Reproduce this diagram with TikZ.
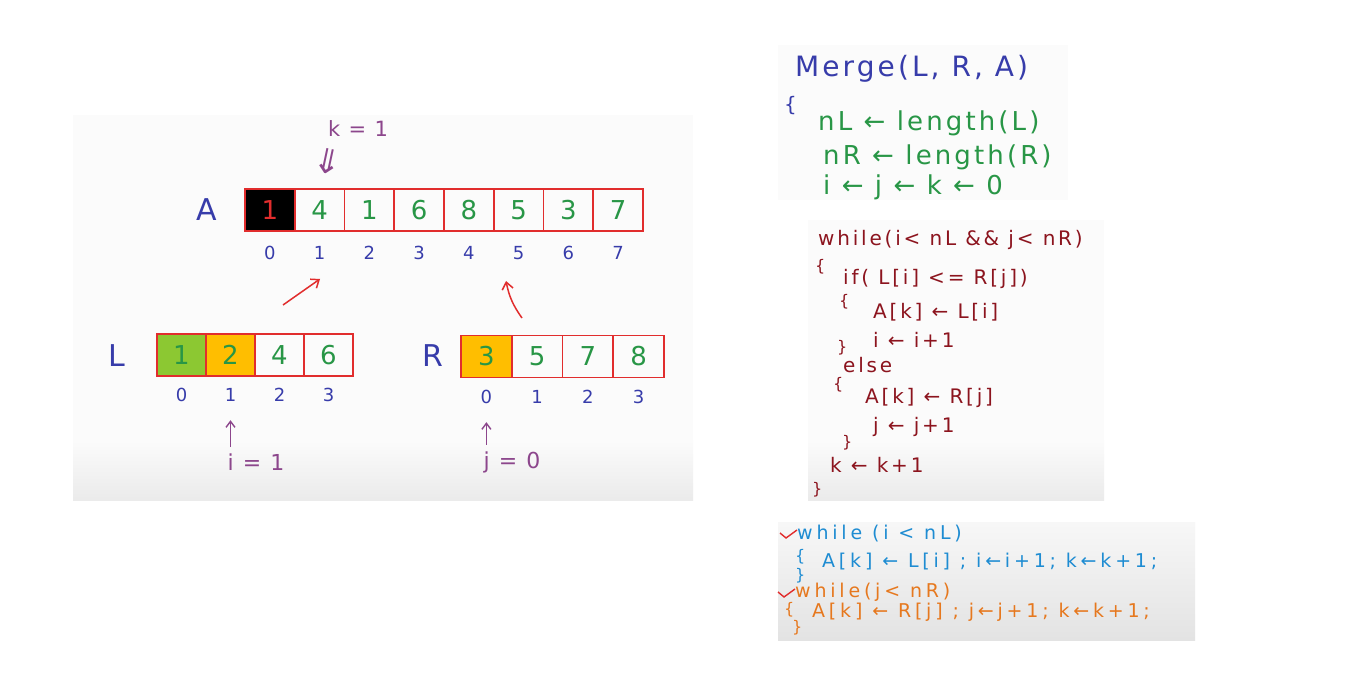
\documentclass[tikz,border=0pt]{standalone}
\usepackage{fontspec}
\setmainfont{DejaVu Sans}
\usepackage{xcolor}
\usepackage{tikz}
\usetikzlibrary{calc, positioning, arrows.meta}

\definecolor{idxblue}{RGB}{55,60,170}
\definecolor{numgreen}{RGB}{40,150,70}
\definecolor{cellred}{RGB}{225,45,45}
\definecolor{ptrpurple}{RGB}{140,70,140}
\definecolor{codered}{RGB}{140,20,30}
\definecolor{codecyan}{RGB}{30,140,210}
\definecolor{codeorange}{RGB}{230,120,30}
\definecolor{limefill}{RGB}{140,200,50}
\definecolor{goldfill}{RGB}{255,190,0}

\newcommand{\fs}[1]{\fontsize{#1}{#1}\selectfont}
\newcommand{\wide}[1]{\addfontfeature{LetterSpace=#1}}

\tikzset{
  cellbox/.style={draw=cellred, line width=1.6pt, outer sep=0pt, inner sep=0pt,
    minimum width=49.75pt, minimum height=42pt, text=numgreen, font=\fs{26}},
  idx/.style={text=idxblue, font=\fs{18}},
  arrname/.style={text=idxblue, font=\fs{30}},
  ptr/.style={ptrpurple, line width=1.4pt, -{Straight Barb[length=6pt,width=9pt]}},
  redptr/.style={cellred, line width=1.5pt, -{Straight Barb[length=7pt,width=11pt]}},
  code/.style={anchor=base west, inner sep=0pt},
  brace/.style={code, font=\fs{16}},
}

\begin{document}
\begin{tikzpicture}[x=1pt, y=-1pt]
    \useasboundingbox (0,0) rectangle (1364,684);
    \fill[white] (0,0) rectangle (1364,684);

    % Hintergrund der Felder
    \fill[gray!3] (73,115) rectangle (693,440);
    \shade[top color=gray!3, bottom color=gray!16] (73,440) rectangle (693,500);
    \fill[gray!3] (778,45) rectangle (1068,200);
    \fill[gray!3] (808,220) rectangle (1104,440);
    \shade[top color=gray!3, bottom color=gray!16] (808,440) rectangle (1104,500);
    \shade[top color=gray!6, bottom color=gray!22] (778,522) rectangle (1195,640);

    % Feld A
    \node[arrname] (nameA) at (207,210) {A};
    \node[cellbox, fill=black, text=cellred] (a0) at (269.9,210) {1};
    \foreach \v [count=\n, remember=\n as \p (initially 0)] in {4,1,6,8,5,3,7}
        \node[cellbox, right=0pt of a\p] (a\n) {\v};
    \foreach \n in {0,...,7}
        \node[idx, below=12pt of a\n] (ai\n) {\n};

    % k
    \node[text=ptrpurple, font=\fs{21}\wide{8}, inner sep=0pt] (kval) at (358,129) {k = 1};
    \node[text=ptrpurple, font=\fs{34}, rotate=-12, inner sep=0pt] (kdown) at (328,161) {⇓};

    % Feld L
    \node[arrname] (nameL) at (117,356) {L};
    \node[cellbox, fill=limefill, minimum width=49pt] (l0) at (181.5,355) {1};
    \node[cellbox, fill=goldfill, minimum width=49pt, right=0pt of l0] (l1) {2};
    \node[cellbox, minimum width=49pt, right=0pt of l1] (l2) {4};
    \node[cellbox, minimum width=49pt, right=0pt of l2] (l3) {6};
    \foreach \n in {0,...,3}
        \node[idx, below=9pt of l\n] (li\n) {\n};

    % Feld R
    \node[arrname] (nameR) at (433,356) {R};
    \node[cellbox, fill=goldfill, minimum width=50.75pt] (r0) at (486.4,356.5) {3};
    \foreach \v [count=\n, remember=\n as \p (initially 0)] in {5,7,8}
        \node[cellbox, minimum width=50.75pt, right=0pt of r\p] (r\n) {\v};
    \foreach \n in {0,...,3}
        \node[idx, below=9pt of r\n] (ri\n) {\n};

    % Zeiger i, j
    \node[text=ptrpurple, font=\fs{22}\wide{10}] (ival) at (256,462) {i = 1};
    \node[text=ptrpurple, font=\fs{22}\wide{10}] (jval) at (512,462) {j = 0};
    \draw[ptr] (ival.north -| li1) ++(0,-3) -- ([yshift=-15pt]li1.south);
    \draw[ptr] (jval.north -| ri0) ++(0,-3) -- ([yshift=-15pt]ri0.south);

    % rote Pfeile
    \coordinate (lfrom) at (283,305);
    \coordinate (lto) at (320,279);
    \coordinate (rfrom) at (522,318);
    \coordinate (rto) at (506,281);
    \draw[redptr] (lfrom) -- (lto);
    \draw[redptr] (rfrom) to[bend left=12] (rto);

    % Merge
    \node[code, text=idxblue, font=\fs{28}\wide{11}] (mhead) at (795,77) {Merge(L, R, A)};
    \node[code, text=idxblue, font=\fs{20}] (mopen) at (784,112) {\{};
    \begin{scope}[every node/.style={code, text=numgreen, font=\fs{26}\wide{12}}]
        \node (minit1) at (818,131) {nL ← length(L)};
        \node (minit2) at (823,165) {nR ← length(R)};
        \node (minit3) at (823,195) {i ← j ← k ← 0};
    \end{scope}

    % while-Schleife
    \begin{scope}[every node/.style={code, text=codered, font=\fs{20}\wide{14}}]
        \node (w1) at (818,246) {while(i< nL \&\& j< nR)};
        \node[brace] (w2) at (815,272) {\{};
        \node (w3) at (843,285) {if( L[i] <= R[j])};
        \node[brace] (w4) at (839,306) {\{};
        \node (w5) at (873,318) {A[k] ← L[i]};
        \node[brace] (w6) at (837,352) {\}};
        \node (w7) at (873,347) {i ← i+1};
        \node (w8) at (843,372) {else};
        \node[brace] (w9) at (833,389) {\{};
        \node (w10) at (865,403) {A[k] ← R[j]};
        \node (w11) at (873,432) {j ← j+1};
        \node[brace] (w12) at (842,447) {\}};
        \node (w13) at (830,472) {k ← k+1};
        \node[brace] (w14) at (812,494) {\}};
    \end{scope}

    % Restschleifen
    \begin{scope}[every node/.style={code, font=\fs{19}\wide{20}}]
        \node[text=codecyan] (c1) at (797,539) {while (i < nL)};
        \node[brace, text=codecyan] (c2) at (795,561) {\{};
        \node[text=codecyan] (c3) at (822,567) {A[k] ← L[i] ; i←i+1; k←k+1;};
        \node[brace, text=codecyan] (c4) at (795,580) {\}};
        \node[text=codeorange] (c5) at (795,597) {while(j< nR)};
        \node[brace, text=codeorange] (c6) at (784,614) {\{};
        \node[text=codeorange] (c7) at (812,617) {A[k] ← R[j] ; j←j+1; k←k+1;};
        \node[brace, text=codeorange] (c8) at (792,632) {\}};
    \end{scope}
    \draw[cellred, line width=1.4pt] (780,533) -- (786,538) -- (797,530);
    \draw[cellred, line width=1.4pt] (778,592) -- (784,597) -- (795,589);
\end{tikzpicture}
\end{document}
